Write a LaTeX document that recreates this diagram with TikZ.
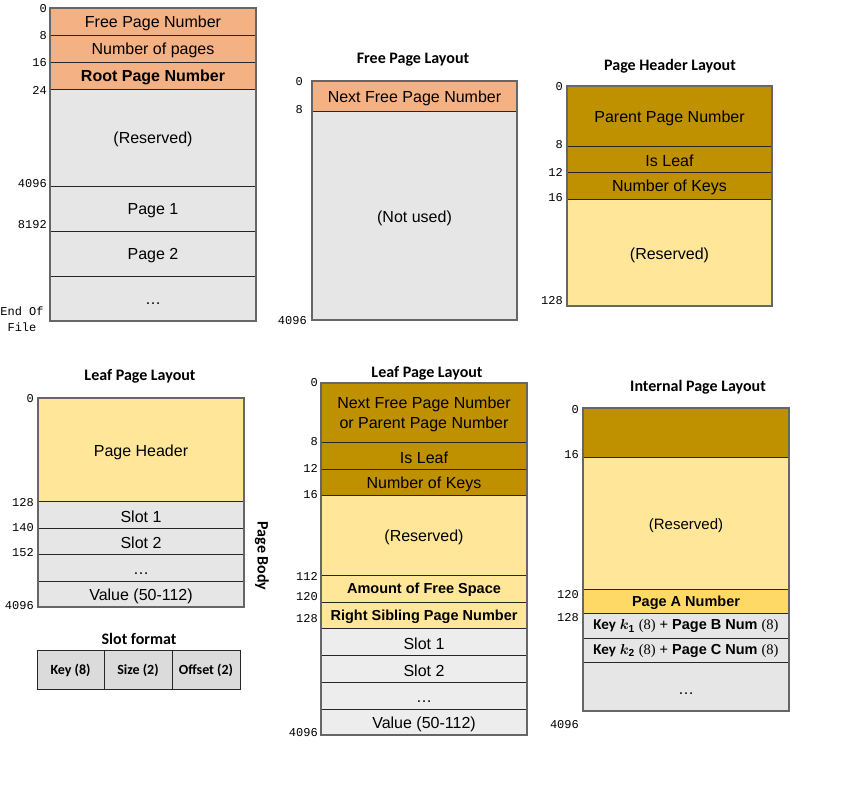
\documentclass[tikz,border=0pt]{standalone}
\usepackage{amsmath}
\usepackage{bm}
\usepackage{fontspec}
\setmainfont{Liberation Sans}
\newfontfamily\titlefont{Carlito}
\newfontfamily\offsetfont{Liberation Mono}
\newfontfamily\seriffont{Liberation Serif}

\definecolor{metafill}{HTML}{F4B183}
\definecolor{hdrfill}{HTML}{BF9000}
\definecolor{resfill}{HTML}{FFE699}
\definecolor{ptrfill}{HTML}{FFD966}
\definecolor{pagefill}{HTML}{E7E6E6}
\definecolor{slotfill}{HTML}{EDEDED}
\definecolor{fmtfill}{HTML}{DBDBDB}

\tikzset{
  row/.style={draw=black!85, line width=0.8pt},
  frame/.style={draw=black!60, line width=1.4pt},
  field/.style={inner sep=0pt, yshift=-2pt, font=\fontsize{16}{19}\selectfont},
  bold field/.style={inner sep=0pt, yshift=-1.5pt, font=\fontsize{14.5}{17}\selectfont\bfseries},
  offset/.style={anchor=east, inner sep=0pt, font=\offsetfont\fontsize{12}{14}\selectfont},
  layout title/.style={inner sep=0pt, yshift=-1.5pt, font=\titlefont\bfseries\fontsize{16}{19}\selectfont},
  fmt field/.style={inner sep=0pt, font=\titlefont\bfseries\fontsize{14}{17}\selectfont},
  key field/.style={inner sep=0pt, yshift=-1pt, font=\fontsize{14.5}{17}\selectfont}
}

\begin{document}
\begin{tikzpicture}[x=1pt, y=-1pt]
  \useasboundingbox (0,0) rectangle (859,792);

  % file layout
  \filldraw[row, fill=metafill] (50,8) rectangle (256,35);
  \node[field] (filefree) at (153,21.5) {Free Page Number};
  \filldraw[row, fill=metafill] (50,35) rectangle (256,62);
  \node[field] (filecount) at (153,48.5) {Number of pages};
  \filldraw[row, fill=metafill] (50,62) rectangle (256,89);
  \node[field, font=\fontsize{16}{19}\selectfont\bfseries] (fileroot) at (153,75.5) {Root Page Number};
  \filldraw[row, fill=pagefill] (50,89) rectangle (256,186);
  \node[field] (fileres) at (153,137.5) {(Reserved)};
  \filldraw[row, fill=pagefill] (50,186) rectangle (256,231);
  \node[field] (filepg1) at (153,208.5) {Page 1};
  \filldraw[row, fill=pagefill] (50,231) rectangle (256,276);
  \node[field] (filepg2) at (153,253.5) {Page 2};
  \filldraw[row, fill=pagefill] (50,276) rectangle (256,321);
  \node[field] (filedots) at (153,302) {…};
  \draw[frame] (50,8) rectangle (256,321);
  \node[offset] (fileo0) at (47,9) {0};
  \node[offset] (fileo8) at (47,36) {8};
  \node[offset] (fileo16) at (47,63) {16};
  \node[offset] (fileo24) at (47,90) {24};
  \node[offset] (fileo4096) at (47,184) {4096};
  \node[offset] (fileo8192) at (47,225) {8192};
  \node[offset, anchor=center, align=center, font=\offsetfont\fontsize{12}{16}\selectfont] (fileeof) at (22,319) {End Of\\File};

  % free page layout
  \node[layout title] (freetitle) at (413,58) {Free Page Layout};
  \filldraw[row, fill=metafill] (312,81) rectangle (517,111);
  \node[field] (freenext) at (414.5,96) {Next Free Page Number};
  \filldraw[row, fill=pagefill] (312,111) rectangle (517,320);
  \node[field] (freeunused) at (414.5,216) {(Not used)};
  \draw[frame] (312,81) rectangle (517,320);
  \node[offset] (freeo0) at (303,82) {0};
  \node[offset] (freeo8) at (303,110) {8};
  \node[offset] (freeo4096) at (307,321) {4096};

  % page header layout
  \node[layout title] (hdrtitle) at (670,65) {Page Header Layout};
  \filldraw[row, fill=hdrfill] (567,86) rectangle (772,146);
  \node[field] (hdrparent) at (669.5,116) {Parent Page Number};
  \filldraw[row, fill=hdrfill] (567,146) rectangle (772,172);
  \node[field] (hdrleaf) at (669.5,159) {Is Leaf};
  \filldraw[row, fill=hdrfill] (567,172) rectangle (772,199);
  \node[field] (hdrkeys) at (669.5,185.5) {Number of Keys};
  \filldraw[row, fill=resfill] (567,199) rectangle (772,306);
  \node[field] (hdrres) at (669.5,253) {(Reserved)};
  \draw[frame] (567,86) rectangle (772,306);
  \node[offset] (hdro0) at (563,87) {0};
  \node[offset] (hdro8) at (563,145) {8};
  \node[offset] (hdro12) at (563,172) {12};
  \node[offset] (hdro16) at (563,198) {16};
  \node[offset] (hdro128) at (563,301) {128};

  % leaf page layout (short)
  \node[layout title] (leaftitle) at (140,375) {Leaf Page Layout};
  \filldraw[row, fill=resfill] (38,398) rectangle (244,501);
  \node[field] (leafhdr) at (141,450) {Page Header};
  \filldraw[row, fill=pagefill] (38,501) rectangle (244,528);
  \node[field] (leafslot1) at (141,514.5) {Slot 1};
  \filldraw[row, fill=pagefill] (38,528) rectangle (244,554);
  \node[field] (leafslot2) at (141,541) {Slot 2};
  \filldraw[row, fill=pagefill] (38,554) rectangle (244,581);
  \node[field] (leafdots) at (141,571.5) {…};
  \filldraw[row, fill=pagefill] (38,581) rectangle (244,607);
  \node[field] (leafval) at (141,594) {Value (50-112)};
  \draw[frame] (38,398) rectangle (244,607);
  \node[offset] (leafo0) at (34,399) {0};
  \node[offset] (leafo128) at (34,503) {128};
  \node[offset] (leafo140) at (34,528) {140};
  \node[offset] (leafo152) at (34,553) {152};
  \node[offset] (leafo4096) at (34,606) {4096};
  \node[layout title, yshift=1.5pt, xshift=1pt, rotate=-90] (leafbody) at (261,556) {Page Body};

  % slot format
  \node[layout title] (slottitle) at (139,637) {Slot format};
  \filldraw[row, fill=fmtfill] (37,650) rectangle (104,689);
  \node[fmt field] (slotkey) at (70.5,670) {Key (8)};
  \filldraw[row, fill=fmtfill] (104,650) rectangle (172,689);
  \node[fmt field] (slotsize) at (138,670) {Size (2)};
  \filldraw[row, fill=fmtfill] (172,650) rectangle (240,689);
  \node[fmt field] (slotoff) at (206,670) {Offset (2)};

  % leaf page layout (full)
  \node[layout title] (fulltitle) at (427,372) {Leaf Page Layout};
  \filldraw[row, fill=hdrfill] (321,383) rectangle (527,442);
  \node[field, align=center, font=\fontsize{16}{20}\selectfont] (fullnext) at (424,412.5) {Next Free Page Number\\or Parent Page Number};
  \filldraw[row, fill=hdrfill] (321,442) rectangle (527,469);
  \node[field] (fullleaf) at (424,455.5) {Is Leaf};
  \filldraw[row, fill=hdrfill] (321,469) rectangle (527,495);
  \node[field] (fullkeys) at (424,482) {Number of Keys};
  \filldraw[row, fill=resfill] (321,495) rectangle (527,575);
  \node[field] (fullres) at (424,535) {(Reserved)};
  \filldraw[row, fill=resfill] (321,575) rectangle (527,602);
  \node[bold field] (fullfree) at (424,588.5) {Amount of Free Space};
  \filldraw[row, fill=resfill] (321,602) rectangle (527,628);
  \node[bold field] (fullsib) at (424,615) {Right Sibling Page Number};
  \filldraw[row, fill=slotfill] (321,628) rectangle (527,655);
  \node[field] (fullslot1) at (424,641.5) {Slot 1};
  \filldraw[row, fill=slotfill] (321,655) rectangle (527,682);
  \node[field] (fullslot2) at (424,668.5) {Slot 2};
  \filldraw[row, fill=slotfill] (321,682) rectangle (527,709);
  \node[field] (fulldots) at (424,700) {…};
  \filldraw[row, fill=slotfill] (321,709) rectangle (527,735);
  \node[field] (fullval) at (424,722) {Value (50-112)};
  \draw[frame] (321,383) rectangle (527,735);
  \node[offset] (fullo0) at (318,383) {0};
  \node[offset] (fullo8) at (318,441.5) {8};
  \node[offset] (fullo12) at (318,468) {12};
  \node[offset] (fullo16) at (318,495) {16};
  \node[offset] (fullo112) at (318,576) {112};
  \node[offset] (fullo120) at (318,597) {120};
  \node[offset] (fullo128) at (318,619) {128};
  \node[offset] (fullo4096) at (318,733) {4096};

  % internal page layout
  \node[layout title] (inttitle) at (698,386) {Internal Page Layout};
  \filldraw[row, fill=hdrfill] (583,408) rectangle (789,457);
  \node[coordinate] (inthdr) at (686,432.5) {};
  \filldraw[row, fill=resfill] (583,457) rectangle (789,589);
  \node[field, font=\fontsize{15}{18}\selectfont] (intres) at (686,524) {(Reserved)};
  \filldraw[row, fill=ptrfill] (583,589) rectangle (789,613);
  \node[bold field] (intpga) at (686,601) {Page A Number};
  \filldraw[row, fill=pagefill] (583,613) rectangle (789,638);
  \node[key field] (intkey1) at (686,625.5)
    {{\titlefont\bfseries\fontsize{15}{17}\selectfont Key} $\boldsymbol{k}_{\mathbf{1}}$ {\seriffont (8)} + \textbf{Page B Num} {\seriffont (8)}};
  \filldraw[row, fill=pagefill] (583,638) rectangle (789,662);
  \node[key field] (intkey2) at (686,650)
    {{\titlefont\bfseries\fontsize{15}{17}\selectfont Key} $\boldsymbol{k}_{\mathbf{2}}$ {\seriffont (8)} + \textbf{Page C Num} {\seriffont (8)}};
  \filldraw[row, fill=pagefill] (583,662) rectangle (789,711);
  \node[field] (intdots) at (686,691.5) {…};
  \draw[frame] (583,408) rectangle (789,711);
  \node[offset] (into0) at (579,410) {0};
  \node[offset] (into16) at (579,455) {16};
  \node[offset] (into120) at (579,595) {120};
  \node[offset] (into128) at (579,618) {128};
  \node[offset] (into4096) at (579,725) {4096};
\end{tikzpicture}
\end{document}
